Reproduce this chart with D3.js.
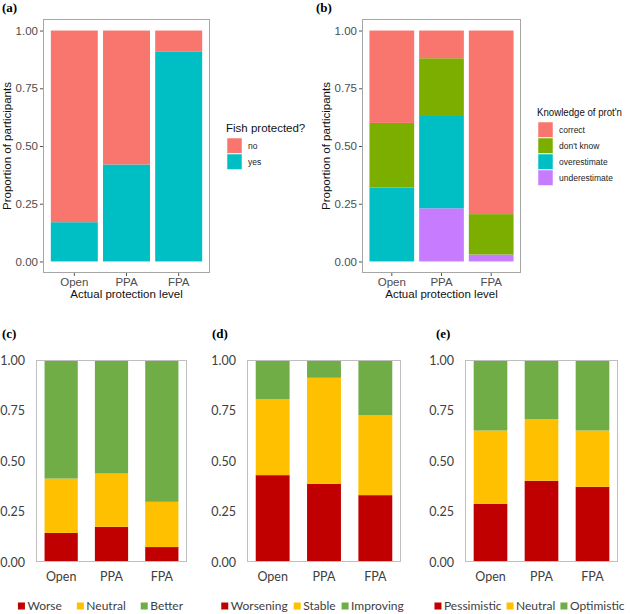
<!DOCTYPE html>
<html><head><meta charset="utf-8">
<script src="https://cdn.jsdelivr.net/npm/d3@7"></script>
<style>
body{margin:0;background:#fff;}
svg{display:block;}
.gg text{font-family:"Liberation Sans",Arial,sans-serif;}
.xl text{font-family:Lato,"Open Sans",sans-serif;}
.plab{font-family:"Liberation Serif","Times New Roman",serif;font-weight:bold;font-size:13px;}
</style></head>
<body>
<svg id="c" width="630" height="614"></svg>
<script>
// ---------------- DATA ----------------
const categories = ["Open", "PPA", "FPA"];
const tickLabels = ["0.00", "0.25", "0.50", "0.75", "1.00"];
const tickValues = [0, 0.25, 0.5, 0.75, 1];

// (a) Fish protected?
const fishKeys = ["no", "yes"];            // legend order
const fishYes = [0.17, 0.42, 0.91];
const fishNo  = [0.83, 0.58, 0.09];

// (b) Knowledge of prot'n
const knowKeys = ["correct", "don't know", "overestimate", "underestimate"]; // legend order
const knowCorrect       = [0.40, 0.12, 0.795];
const knowDontKnow      = [0.28, 0.25, 0.175];
const knowOverestimate  = [0.32, 0.40, 0.00];
const knowUnderestimate = [0.00, 0.23, 0.03];

// (c)
const cKeys = ["Worse", "Neutral", "Better"];
const cWorse   = [0.144, 0.174, 0.074];
const cNeutral = [0.269, 0.264, 0.224];
const cBetter  = [0.587, 0.562, 0.702];

// (d)
const dKeys = ["Worsening", "Stable", "Improving"];
const dWorsening = [0.430, 0.387, 0.331];
const dStable    = [0.377, 0.525, 0.395];
const dImproving = [0.193, 0.088, 0.274];

// (e)
const eKeys = ["Pessimistic", "Neutral", "Optimistic"];
const ePessimistic = [0.288, 0.402, 0.372];
const eNeutral     = [0.363, 0.305, 0.279];
const eOptimistic  = [0.349, 0.293, 0.349];

// ---------------- DRAW ----------------
const svg = d3.select("#c");

function rows(keys, arrays) {
  return categories.map((c, i) => {
    const r = {cat: c};
    keys.forEach((k, j) => r[k] = arrays[j][i]);
    return r;
  });
}

function ggPanel(cfg) {
  const g = svg.append("g").attr("class", "gg");
  const x = d3.scaleBand().domain(categories).range([cfg.x0, cfg.x1]).paddingInner(0.1).paddingOuter(0.15);
  const y = d3.scaleLinear().domain([-0.05, 1.05]).range([cfg.y1, cfg.y0]);
  const stack = d3.stack().keys(cfg.stackKeys)(cfg.data);
  stack.forEach(layer => {
    g.append("g").selectAll("rect").data(layer).join("rect")
      .attr("x", d => x(d.data.cat)).attr("width", x.bandwidth())
      .attr("y", d => y(d[1])).attr("height", d => Math.max(0, y(d[0]) - y(d[1])))
      .attr("fill", cfg.colors[layer.key]);
  });
  g.append("rect").attr("x", cfg.x0 + 0.5).attr("y", cfg.y0 + 0.5)
    .attr("width", cfg.x1 - cfg.x0 - 1).attr("height", cfg.y1 - cfg.y0 - 1)
    .attr("fill", "none").attr("stroke", "#a6a6a6").attr("stroke-width", 1);
  const ya = g.append("g").attr("transform", `translate(${cfg.x0},0)`)
    .call(d3.axisLeft(y).tickValues(tickValues).tickFormat((d, i) => tickLabels[i]).tickSize(3).tickPadding(2));
  ya.select(".domain").remove();
  ya.selectAll("line").attr("stroke", "#555");
  ya.selectAll("text").attr("font-size", "11.5px").attr("fill", "#4d4d4d");
  const xa = g.append("g").attr("transform", `translate(0,${cfg.y1})`)
    .call(d3.axisBottom(x).tickSize(3).tickPadding(2));
  xa.select(".domain").remove();
  xa.selectAll("line").attr("stroke", "#555");
  xa.selectAll("text").attr("font-size", "11.5px").attr("fill", "#4d4d4d");
  g.append("text").attr("x", (cfg.x0 + cfg.x1) / 2).attr("y", 298).attr("text-anchor", "middle")
    .attr("font-size", "11.5px").attr("fill", "#111").text("Actual protection level");
  g.append("text").attr("transform", `translate(${cfg.ytx},${(y(0) + y(1)) / 2}) rotate(-90)`)
    .attr("text-anchor", "middle").attr("font-size", "11.5px").attr("fill", "#111")
    .text("Proportion of participants");
  // legend
  const lg = g.append("g");
  const t = lg.append("text").attr("x", cfg.lx - 1).attr("y", cfg.ly - 6).attr("font-size", cfg.ltSize)
    .attr("fill", "#111").text(cfg.legendTitle);
  if (cfg.ltMax && t.node().getComputedTextLength() > cfg.ltMax) {
    t.attr("textLength", cfg.ltMax).attr("lengthAdjust", "spacingAndGlyphs");
  }
  cfg.legendKeys.forEach((k, i) => {
    const yy = cfg.ly + i * 16;
    lg.append("rect").attr("x", cfg.lx).attr("y", yy).attr("width", 15).attr("height", 15.5)
      .attr("fill", cfg.colors[k]).attr("stroke", "#fff").attr("stroke-width", 0.5);
    lg.append("text").attr("x", cfg.lx + 21).attr("y", yy + 8).attr("dy", "0.35em")
      .attr("font-size", "8.5px").attr("fill", "#222").text(k);
  });
  svg.append("text").attr("class", "plab").attr("x", cfg.labx).attr("y", 12).text(cfg.label);
}

ggPanel({
  label: "(a)", labx: 2, x0: 43, x1: 210, y0: 19, y1: 273, ytx: 11,
  data: rows(["yes", "no"], [fishYes, fishNo]), stackKeys: ["yes", "no"],
  colors: {no: "#F8766D", yes: "#00BFC4"},
  legendTitle: "Fish protected?", legendKeys: fishKeys, lx: 227, ly: 138, ltSize: "11.5px"
});
ggPanel({
  label: "(b)", labx: 316, x0: 362, x1: 521, y0: 19, y1: 273, ytx: 330,
  data: rows(["underestimate", "overestimate", "don't know", "correct"],
             [knowUnderestimate, knowOverestimate, knowDontKnow, knowCorrect]),
  stackKeys: ["underestimate", "overestimate", "don't know", "correct"],
  colors: {"correct": "#F8766D", "don't know": "#7CAE00", "overestimate": "#00BFC4", "underestimate": "#C77CFF"},
  legendTitle: "Knowledge of prot'n", legendKeys: knowKeys, lx: 538, ly: 122, ltSize: "10.5px", ltMax: 85
});

const xlColors = ["#C00000", "#FFC000", "#70AD47"];

function xlPanel(cfg) {
  const g = svg.append("g").attr("class", "xl");
  const x = d3.scaleBand().domain(categories).range([cfg.x0, cfg.x1]).paddingInner(0.34).paddingOuter(0.17);
  const y = d3.scaleLinear().domain([0, 1]).range([562, 360]);
  const col = {};
  cfg.keys.forEach((k, i) => col[k] = xlColors[i]);
  const stack = d3.stack().keys(cfg.keys)(cfg.data);
  stack.forEach(layer => {
    g.append("g").selectAll("rect").data(layer).join("rect")
      .attr("x", d => x(d.data.cat)).attr("width", x.bandwidth())
      .attr("y", d => y(d[1])).attr("height", d => Math.max(0, y(d[0]) - y(d[1])))
      .attr("fill", col[layer.key]);
  });
  g.append("rect").attr("x", cfg.x0 + 0.5).attr("y", 360.5).attr("width", cfg.x1 - cfg.x0 - 1)
    .attr("height", 201).attr("fill", "none").attr("stroke", "#bfbfbf").attr("stroke-width", 1);
  const ya = g.append("g").attr("transform", `translate(${cfg.x0},0)`)
    .call(d3.axisLeft(y).tickValues(tickValues).tickFormat((d, i) => tickLabels[i]).tickSize(0).tickPadding(11));
  ya.select(".domain").remove();
  ya.selectAll("text").attr("font-size", "12.5px").attr("fill", "#404040");
  const xa = g.append("g").attr("transform", `translate(0,562)`)
    .call(d3.axisBottom(x).tickSize(0).tickPadding(10));
  xa.select(".domain").remove();
  xa.selectAll("text").attr("font-size", "12.5px").attr("fill", "#404040");
  // legend, laid out by measured text widths and centred
  const lg = g.append("g");
  let cur = 0;
  cfg.keys.forEach((k, i) => {
    const item = lg.append("g").attr("transform", `translate(${cur},0)`);
    item.append("rect").attr("x", 0).attr("y", 602.5).attr("width", 7).attr("height", 7).attr("fill", col[k]);
    const t = item.append("text").attr("x", 9.5).attr("y", 610).attr("font-size", "12px")
      .attr("fill", "#404040").text(k);
    cur += 9.5 + t.node().getComputedTextLength() + (i < cfg.keys.length - 1 ? cfg.legendGap : 0);
  });
  lg.attr("transform", `translate(${cfg.legendCenter - cur / 2},0)`);
  svg.append("text").attr("class", "plab").attr("x", cfg.labx).attr("y", 338).text(cfg.label);
}

xlPanel({label: "(c)", labx: 2, x0: 36, x1: 187, keys: cKeys,
  data: rows(cKeys, [cWorse, cNeutral, cBetter]), legendCenter: 100.5, legendGap: 15});
xlPanel({label: "(d)", labx: 212, x0: 247, x1: 401, keys: dKeys,
  data: rows(dKeys, [dWorsening, dStable, dImproving]), legendCenter: 312.5, legendGap: 6});
xlPanel({label: "(e)", labx: 436, x0: 465, x1: 618, keys: eKeys,
  data: rows(eKeys, [ePessimistic, eNeutral, eOptimistic]), legendCenter: 529.5, legendGap: 5});
</script>
</body></html>
